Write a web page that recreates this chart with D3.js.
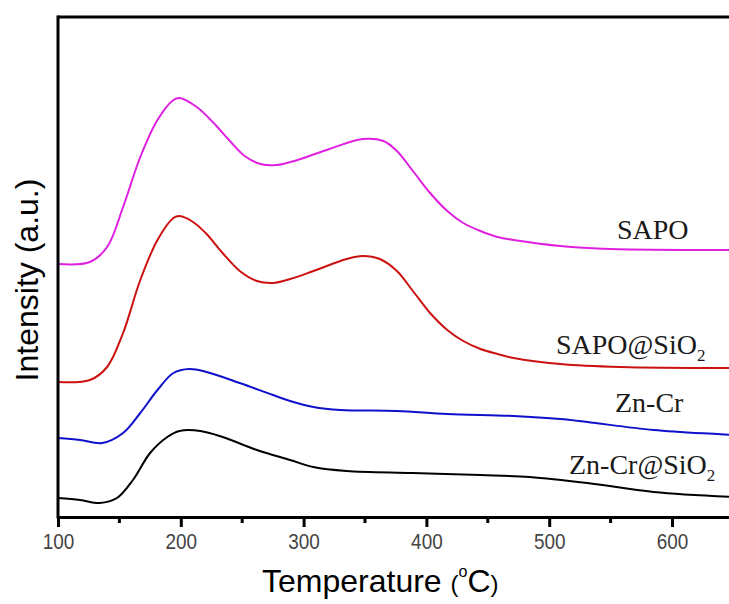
<!DOCTYPE html>
<html>
<head>
<meta charset="utf-8">
<script src="https://cdn.jsdelivr.net/npm/d3@7"></script>
<style>
  body { margin: 0; background: #fff; }
  svg { display: block; }
</style>
</head>
<body>
<div id="chart"></div>
<script>
// TPD curves, intensity in a.u.
var sapoT = [100, 126, 140, 153, 167, 181, 194, 199, 213, 226, 240, 252, 265, 278, 295, 321, 348, 365, 376, 389, 403, 417, 430, 444, 458, 471, 509, 550, 650]
var sapoI = [253, 255, 270, 310, 360, 397, 417, 419, 410, 395, 376, 361, 353, 352, 357, 368, 378, 376, 366, 346, 324, 306, 294, 286, 280, 277, 271, 268, 267]

var sapoSiT = [100, 126, 140, 153, 167, 181, 194, 199, 210, 221, 234, 248, 262, 275, 289, 308, 335, 348, 362, 376, 389, 403, 417, 430, 444, 458, 471, 509, 558, 650]
var sapoSiI = [135, 137, 150, 184, 237, 277, 299, 301, 295, 283, 264, 246, 236, 234, 238, 246, 258, 261, 258, 246, 226, 204, 187, 176, 168, 163, 159, 153, 150, 149]

var znCrT = [100, 118, 136, 153, 167, 181, 194, 207, 221, 248, 275, 289, 308, 330, 376, 417, 471, 509, 531, 585, 650]
var znCrI = [79, 77, 74, 84, 104, 127, 144, 148, 145, 134, 122, 116, 110, 107, 106, 103, 101, 98, 95, 87, 82]

var znCrSiT = [100, 118, 134, 148, 161, 175, 189, 199, 216, 234, 262, 289, 308, 335, 389, 444, 484, 531, 585, 650]
var znCrSiI = [19, 17, 14, 19, 37, 64, 80, 86, 86, 80, 67, 57, 50, 46, 44, 42, 40, 34, 25, 20]

var seriesNames = ['SAPO', 'SAPO@SiO2', 'Zn-Cr', 'Zn-Cr@SiO2']
var seriesColors = ['#e020e0', '#cc1111', '#1010cc', '#000000']
var xTicks = [100, 200, 300, 400, 500, 600]
var xMinorTicks = [150, 250, 350, 450, 550, 650]

var width = 729
var height = 604
var plotLeft = 58, plotTop = 17, plotBottom = 517

var svg = d3.select('#chart').append('svg')
  .attr('width', width)
  .attr('height', height)
  .style('font-family', '"Liberation Sans", Arial, sans-serif')

var x = d3.scaleLinear().domain([100, 650]).range([plotLeft, plotLeft + 550 * 1.228])
var y = d3.scaleLinear().domain([0, 500]).range([plotBottom, plotTop])

var series = [
  {t: sapoT, v: sapoI},
  {t: sapoSiT, v: sapoSiI},
  {t: znCrT, v: znCrI},
  {t: znCrSiT, v: znCrSiI}
]

var line = d3.line()
  .x(function(d){return x(d[0])})
  .y(function(d){return y(d[1])})
  .curve(d3.curveCatmullRom.alpha(0.5))

svg.selectAll('.curve').data(series).enter().append('path')
  .classed('curve', true)
  .attr('d', function(s){ return line(s.t.map(function(t, i){ return [t, s.v[i]] })) })
  .attr('fill', 'none')
  .attr('stroke', function(s, i){ return seriesColors[i] })
  .attr('stroke-width', 2)

// frame: left, top and bottom
svg.append('line').attr('x1', plotLeft).attr('x2', plotLeft).attr('y1', plotTop - 1.5).attr('y2', plotBottom + 1.5)
  .attr('stroke', '#000').attr('stroke-width', 3)
svg.append('line').attr('x1', plotLeft).attr('x2', width).attr('y1', plotTop).attr('y2', plotTop)
  .attr('stroke', '#000').attr('stroke-width', 3)

var xAxis = svg.append('g').attr('transform', 'translate(0,' + plotBottom + ')')
  .call(d3.axisBottom(x).tickValues(xTicks).tickSize(10).tickPadding(6).tickFormat(d3.format('d')))
xAxis.select('.domain').attr('stroke-width', 3)
xAxis.selectAll('.tick line').attr('stroke-width', 3)
xAxis.selectAll('.tick text')
  .attr('font-size', 22)
  .attr('fill', '#444')
  .attr('transform', 'scale(0.86,1)')
  .attr('font-family', '"Liberation Sans", Arial, sans-serif')

svg.append('g').selectAll('line').data(xMinorTicks).enter().append('line')
  .attr('x1', function(d){return x(d)})
  .attr('x2', function(d){return x(d)})
  .attr('y1', plotBottom)
  .attr('y2', plotBottom + 6)
  .attr('stroke', '#000')
  .attr('stroke-width', 3)

// axis titles
var xt = svg.append('text').attr('x', 262).attr('y', 592).attr('font-size', 32).attr('fill', '#000')
xt.append('tspan').text('Temperature ')
xt.append('tspan').attr('font-size', 24).text('(')
xt.append('tspan').attr('font-size', 16).attr('dy', -15).text('o')
xt.append('tspan').attr('dy', 15).text('C')
xt.append('tspan').attr('font-size', 24).text(')')

svg.append('text')
  .attr('transform', 'translate(38,280) rotate(-90)')
  .attr('text-anchor', 'middle')
  .attr('font-size', 32)
  .attr('fill', '#000')
  .text('Intensity (a.u.)')

// series labels
var labelX = [617, 556, 615, 569]
var labelY = [239, 354, 412, 474]
var labels = svg.selectAll('.lab').data(seriesNames).enter().append('text')
  .classed('lab', true)
  .attr('x', function(d, i){return labelX[i]})
  .attr('y', function(d, i){return labelY[i]})
  .attr('font-family', '"Liberation Serif", "Times New Roman", serif')
  .attr('font-size', 28)
  .attr('fill', '#1a1a1a')
labels.each(function(d){
  var t = d3.select(this)
  if (d.slice(-1) === '2') {
    t.append('tspan').text(d.slice(0, -1))
    t.append('tspan').attr('font-size', 17).attr('dy', 7).text('2')
  } else {
    t.text(d)
  }
})
</script>
</body>
</html>
